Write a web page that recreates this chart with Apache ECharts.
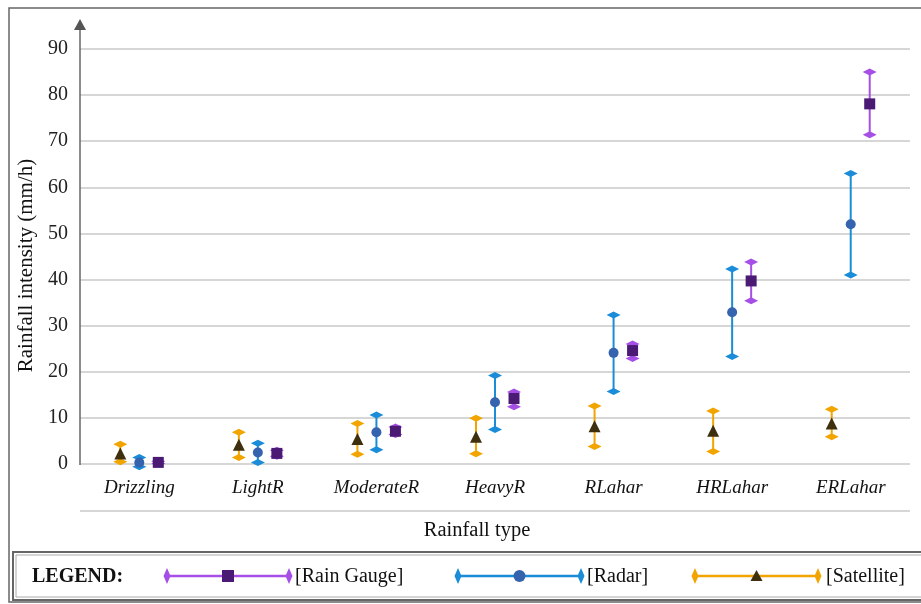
<!DOCTYPE html>
<html>
<head>
<meta charset="utf-8">
<script src="https://cdn.jsdelivr.net/npm/echarts@6/dist/echarts.min.js"></script>
<style>
html,body{margin:0;padding:0;background:#fff;}
#chart{width:921px;height:604px;}
</style>
</head>
<body>
<div id="chart"></div>
<script>
var categories = ['Drizzling', 'LightR', 'ModerateR', 'HeavyR', 'RLahar', 'HRLahar', 'ERLahar'];
var yTicks = [0, 10, 20, 30, 40, 50, 60, 70, 80, 90];

var gaugeMean  = [0.35, 2.3, 7.1, 14.2, 24.6, 39.7, 78.1];
var gaugeUpper = [0.6, 3.0, 8.0, 15.6, 26.0, 43.8, 85.0];
var gaugeLower = [0.1, 1.7, 6.4, 12.4, 22.9, 35.4, 71.4];

var radarMean  = [0.3, 2.5, 6.9, 13.4, 24.1, 32.9, 52.0];
var radarUpper = [1.4, 4.5, 10.6, 19.2, 32.3, 42.3, 63.0];
var radarLower = [-0.6, 0.3, 3.1, 7.5, 15.7, 23.3, 41.0];

var satMean  = [2.3, 4.2, 5.4, 5.9, 8.2, 7.2, 8.8];
var satUpper = [4.3, 6.9, 8.8, 9.9, 12.6, 11.5, 11.9];
var satLower = [0.5, 1.4, 2.1, 2.2, 3.8, 2.7, 5.9];

var GAUGE_LINE = '#A64FE6', GAUGE_MARK = '#4A1A74';
var RADAR_LINE = '#1A8CD8', RADAR_MARK = '#3563AE';
var SAT_LINE = '#F2A500', SAT_MARK = '#3E2F0E';
var SERIF = '"Liberation Serif", "DejaVu Serif", serif';

function buildErr(mean, up, lo) {
  return categories.map(function (c, i) { return [i, mean[i], up[i], lo[i]]; });
}
function buildPts(mean) {
  return categories.map(function (c, i) { return [i, mean[i]]; });
}
function errRenderer(offset, color) {
  return function (params, api) {
    var u = api.coord([api.value(0), api.value(2)]);
    var l = api.coord([api.value(0), api.value(3)]);
    var cx = u[0] + offset;
    var hw = 7, hh = 3.5;
    function diamond(y) {
      return { type: 'polygon', shape: { points: [[cx - hw, y], [cx, y - hh], [cx + hw, y], [cx, y + hh]] }, style: { fill: color } };
    }
    return { type: 'group', children: [
      { type: 'line', shape: { x1: cx, y1: u[1], x2: cx, y2: l[1] }, style: { stroke: color, lineWidth: 2 } },
      diamond(u[1]), diamond(l[1])
    ] };
  };
}

var OFF = 19;
var chart = echarts.init(document.getElementById('chart'));

function legendItem(x1, x2, color, markShape, markColor, label, textX) {
  var cy = 576, hw = 3.5, hh = 8;
  var items = [
    { type: 'line', shape: { x1: x1, y1: cy, x2: x2, y2: cy }, style: { stroke: color, lineWidth: 2.5 } },
    { type: 'polygon', shape: { points: [[x1 - hw, cy], [x1, cy - hh], [x1 + hw, cy], [x1, cy + hh]] }, style: { fill: color } },
    { type: 'polygon', shape: { points: [[x2 - hw, cy], [x2, cy - hh], [x2 + hw, cy], [x2, cy + hh]] }, style: { fill: color } },
    { type: 'text', style: { text: label, x: textX, y: cy + 1, verticalAlign: 'middle', font: '20px ' + SERIF, fill: '#111' } }
  ];
  var mx = (x1 + x2) / 2;
  if (markShape === 'rect') items.push({ type: 'rect', shape: { x: mx - 6, y: cy - 6, width: 12, height: 12 }, style: { fill: markColor } });
  if (markShape === 'circle') items.push({ type: 'circle', shape: { cx: mx, cy: cy, r: 6 }, style: { fill: markColor } });
  if (markShape === 'tri') items.push({ type: 'polygon', shape: { points: [[mx - 6, cy + 5], [mx + 6, cy + 5], [mx, cy - 6]] }, style: { fill: markColor } });
  return items;
}

var graphics = [
  { type: 'rect', shape: { x: 9, y: 8, width: 930, height: 594 }, style: { fill: null, stroke: '#666', lineWidth: 1.5 }, z: 0 },
  { type: 'rect', shape: { x: 13, y: 552, width: 930, height: 48 }, style: { fill: null, stroke: '#666', lineWidth: 2 } },
  { type: 'rect', shape: { x: 16, y: 555, width: 930, height: 42 }, style: { fill: null, stroke: '#aaa', lineWidth: 1 } },
  { type: 'line', shape: { x1: 80, y1: 511, x2: 910, y2: 511 }, style: { stroke: '#c8c8c8', lineWidth: 1.5 } },
  { type: 'line', shape: { x1: 80, y1: 465, x2: 80, y2: 28 }, style: { stroke: '#666', lineWidth: 1.5 }, z: 10 },
  { type: 'polygon', shape: { points: [[74, 30], [86, 30], [80, 19]] }, style: { fill: '#555' }, z: 10 },
  { type: 'text', style: { text: 'Rainfall type', x: 477, y: 531, align: 'center', verticalAlign: 'middle', font: '20.5px ' + SERIF, fill: '#111' } },
  { type: 'text', style: { text: 'LEGEND:', x: 32, y: 577, verticalAlign: 'middle', font: 'bold 20px ' + SERIF, fill: '#111' } }
].concat(legendItem(167, 289, GAUGE_LINE, 'rect', GAUGE_MARK, '[Rain Gauge]', 295))
 .concat(legendItem(458, 581, RADAR_LINE, 'circle', RADAR_MARK, '[Radar]', 587))
 .concat(legendItem(695, 818, SAT_LINE, 'tri', SAT_MARK, '[Satellite]', 826));

chart.setOption({
  animation: false,
  backgroundColor: '#fff',
  grid: { left: 80, right: 11, top: 49, bottom: 140, containLabel: false },
  xAxis: {
    type: 'category',
    data: categories,
    boundaryGap: true,
    axisLine: { show: false },
    axisTick: { show: false },
    axisLabel: { margin: 14, fontFamily: SERIF, fontStyle: 'italic', fontSize: 19, color: '#111' }
  },
  yAxis: {
    type: 'value',
    min: yTicks[0],
    max: yTicks[yTicks.length - 1],
    interval: 10,
    name: 'Rainfall intensity (mm/h)',
    nameLocation: 'middle',
    nameRotate: 90,
    nameGap: 39,
    nameTextStyle: { fontFamily: SERIF, fontSize: 21, color: '#111', padding: [0, 18, 0, 0] },
    axisLine: { show: false },
    axisTick: { show: false },
    axisLabel: { margin: 12, fontFamily: SERIF, fontSize: 20, color: '#222' },
    splitLine: { lineStyle: { color: '#c8c8c8', width: 1.5 } }
  },
  series: [
    { type: 'custom', renderItem: errRenderer(-OFF, SAT_LINE), data: buildErr(satMean, satUpper, satLower), encode: { x: 0, y: [1, 2, 3] }, z: 2 },
    { type: 'custom', renderItem: errRenderer(0, RADAR_LINE), data: buildErr(radarMean, radarUpper, radarLower), encode: { x: 0, y: [1, 2, 3] }, z: 2 },
    { type: 'custom', renderItem: errRenderer(OFF, GAUGE_LINE), data: buildErr(gaugeMean, gaugeUpper, gaugeLower), encode: { x: 0, y: [1, 2, 3] }, z: 2 },
    { type: 'scatter', data: buildPts(satMean), symbol: 'triangle', symbolSize: 12, symbolOffset: [-OFF, 0], itemStyle: { color: SAT_MARK, opacity: 1 }, z: 3 },
    { type: 'scatter', data: buildPts(radarMean), symbol: 'circle', symbolSize: 10, symbolOffset: [0, 0], itemStyle: { color: RADAR_MARK, opacity: 1 }, z: 3 },
    { type: 'scatter', data: buildPts(gaugeMean), symbol: 'rect', symbolSize: 11, symbolOffset: [OFF, 0], itemStyle: { color: GAUGE_MARK, opacity: 1 }, z: 3 }
  ],
  graphic: graphics
});
</script>
</body>
</html>
